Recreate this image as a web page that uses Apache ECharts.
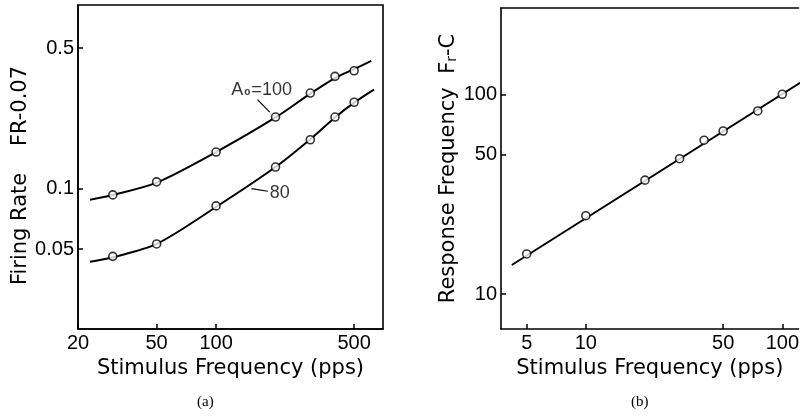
<!DOCTYPE html>
<html><head><meta charset="utf-8">
<script src="https://cdn.jsdelivr.net/npm/echarts@6/dist/echarts.min.js"></script>
<style>html,body{margin:0;padding:0;background:#fff}#c{width:802px;height:417px}</style>
</head><body><div id="c"></div>
<script>
// Panel (a)
const freqA = [30, 50, 100, 200, 300, 400, 500];
const rate100 = [0.093, 0.108, 0.152, 0.227, 0.299, 0.362, 0.386];
const rate80 = [0.046, 0.053, 0.082, 0.128, 0.175, 0.227, 0.269];
const curve100X = [23, 30, 50, 100, 200, 300, 400, 500, 610];
const curve100Y = [0.088, 0.093, 0.107, 0.152, 0.226, 0.297, 0.355, 0.393, 0.432];
const curve80X = [23, 30, 50, 100, 200, 300, 400, 500, 630];
const curve80Y = [0.0432, 0.0455, 0.053, 0.081, 0.128, 0.176, 0.226, 0.268, 0.311];
const xTicksA = [20, 50, 100, 500];
const yTicksA = [0.05, 0.1, 0.5];
const yTickLabelsA = ['0.05', '0.1', '0.5'];
const leader100 = [[162, 0.277], [187, 0.24]];
const leader80 = [[151, 0.1], [183, 0.097]];
const label100Pos = [170, 0.311];
const label80Pos = [210, 0.0955];

// Panel (b)
const freqB = [5, 10, 20, 30, 40, 50, 75, 100];
const respB = [15.9, 24.7, 37.2, 47.6, 58.9, 65.5, 82.5, 100];
const fitBX = [4.2, 130];
const fitBY = [14.0, 118];
const xTicksB = [5, 10, 50, 100];
const yTicksB = [10, 50, 100];

const zip = (a, b) => a.map((v, i) => [v, b[i]]);
const BLACK = '#000';
const tickFont = {color: BLACK, fontFamily: 'Liberation Sans', fontSize: 20};
const nameFont = {color: BLACK, fontFamily: 'DejaVu Sans', fontSize: 21};

function logAxis(gi, min, max, ticks, labels, extra) {
  return Object.assign({
    gridIndex: gi, type: 'log', logBase: 10, min: min, max: max,
    axisLine: {show: true, lineStyle: {color: BLACK, width: 1.6}},
    axisTick: {show: true, inside: true, length: 5, customValues: ticks, lineStyle: {color: BLACK, width: 1.5}},
    axisLabel: Object.assign({show: true, margin: 4, customValues: ticks,
      formatter: v => { const i = ticks.findIndex(t => Math.abs(t - v) / t < 1e-6); return i >= 0 ? labels[i] : String(v); }}, tickFont),
    splitLine: {show: false}, minorTick: {show: false}, minorSplitLine: {show: false},
    nameTextStyle: nameFont
  }, extra || {});
}

const circle = {symbol: 'circle', symbolSize: 8, itemStyle: {color: '#fff', borderColor: BLACK, borderWidth: 1.6}};

const chart = echarts.init(document.getElementById('c'), null, {renderer: 'canvas'});
chart.setOption({
  animation: false,
  backgroundColor: '#fff',
  grid: [
    {left: 78, top: 5, width: 305, height: 324, show: true, borderColor: BLACK, borderWidth: 1.6, backgroundColor: 'transparent'},
    {left: 501, top: 8, width: 302, height: 321, show: false}
  ],
  xAxis: [
    logAxis(0, 20, 700, xTicksA, xTicksA.map(String), {name: 'Stimulus Frequency (pps)', nameLocation: 'middle', nameGap: 29}),
    logAxis(1, 3.7, 121, xTicksB, xTicksB.map(String), {name: 'Stimulus Frequency (pps)', nameLocation: 'middle', nameGap: 27}),
    logAxis(1, 3.7, 121, [], [], {position: 'top', axisTick: {show: false}, axisLabel: {show: false}})
  ],
  yAxis: [
    logAxis(0, 0.02, 0.82, yTicksA, yTickLabelsA, {name: 'Firing Rate    FR-0.07', nameLocation: 'middle', nameGap: 44, nameRotate: 90,
      nameTextStyle: Object.assign({}, nameFont, {padding: [0, 17, 0, 0]})}),
    logAxis(1, 6.7, 270, yTicksB, yTicksB.map(String), {nameLocation: 'middle', nameGap: 32, nameRotate: 90,
      name: '{a|Response Frequency  F}{s|r}{a|-C}',
      nameTextStyle: Object.assign({}, nameFont, {rich: {a: Object.assign({}, nameFont), s: {color: BLACK, fontFamily: 'DejaVu Sans', fontSize: 14, padding: [8, 0, 0, 0]}}})})
  ],
  series: [
    {type: 'line', xAxisIndex: 0, yAxisIndex: 0, data: zip(curve100X, curve100Y), smooth: 0.3, showSymbol: false, lineStyle: {color: BLACK, width: 2}, z: 2},
    {type: 'line', xAxisIndex: 0, yAxisIndex: 0, data: zip(curve80X, curve80Y), smooth: 0.3, showSymbol: false, lineStyle: {color: BLACK, width: 2}, z: 2},
    Object.assign({type: 'scatter', xAxisIndex: 0, yAxisIndex: 0, data: zip(freqA, rate100), z: 3}, circle),
    Object.assign({type: 'scatter', xAxisIndex: 0, yAxisIndex: 0, data: zip(freqA, rate80), z: 3}, circle),
    {type: 'line', xAxisIndex: 0, yAxisIndex: 0, data: leader100, showSymbol: false, lineStyle: {color: BLACK, width: 1.2}},
    {type: 'line', xAxisIndex: 0, yAxisIndex: 0, data: leader80, showSymbol: false, lineStyle: {color: BLACK, width: 1.2}},
    {type: 'scatter', xAxisIndex: 0, yAxisIndex: 0, symbolSize: 0, data: [label100Pos],
      label: {show: true, position: 'inside', formatter: 'A{s|o}=100', color: BLACK, fontFamily: 'Liberation Sans', fontSize: 18, textBorderWidth: 0,
        rich: {s: {fontFamily: 'Liberation Sans', fontSize: 10, fontWeight: 'bold', color: BLACK, padding: [6, 1, 0, 1]}}}},
    {type: 'scatter', xAxisIndex: 0, yAxisIndex: 0, symbolSize: 0, data: [label80Pos],
      label: {show: true, position: 'inside', formatter: '80', color: BLACK, fontFamily: 'Liberation Sans', fontSize: 18, textBorderWidth: 0}},
    {type: 'line', xAxisIndex: 1, yAxisIndex: 1, data: zip(fitBX, fitBY), showSymbol: false, lineStyle: {color: BLACK, width: 2}, z: 2},
    Object.assign({type: 'scatter', xAxisIndex: 1, yAxisIndex: 1, data: zip(freqB, respB), z: 3}, circle)
  ],
  graphic: [
    {type: 'text', left: 197, top: 395, style: {text: '(a)', fill: BLACK, font: '15px "Liberation Serif"'}},
    {type: 'text', left: 631, top: 395, style: {text: '(b)', fill: BLACK, font: '15px "Liberation Serif"'}}
  ]
});
</script></body></html>
